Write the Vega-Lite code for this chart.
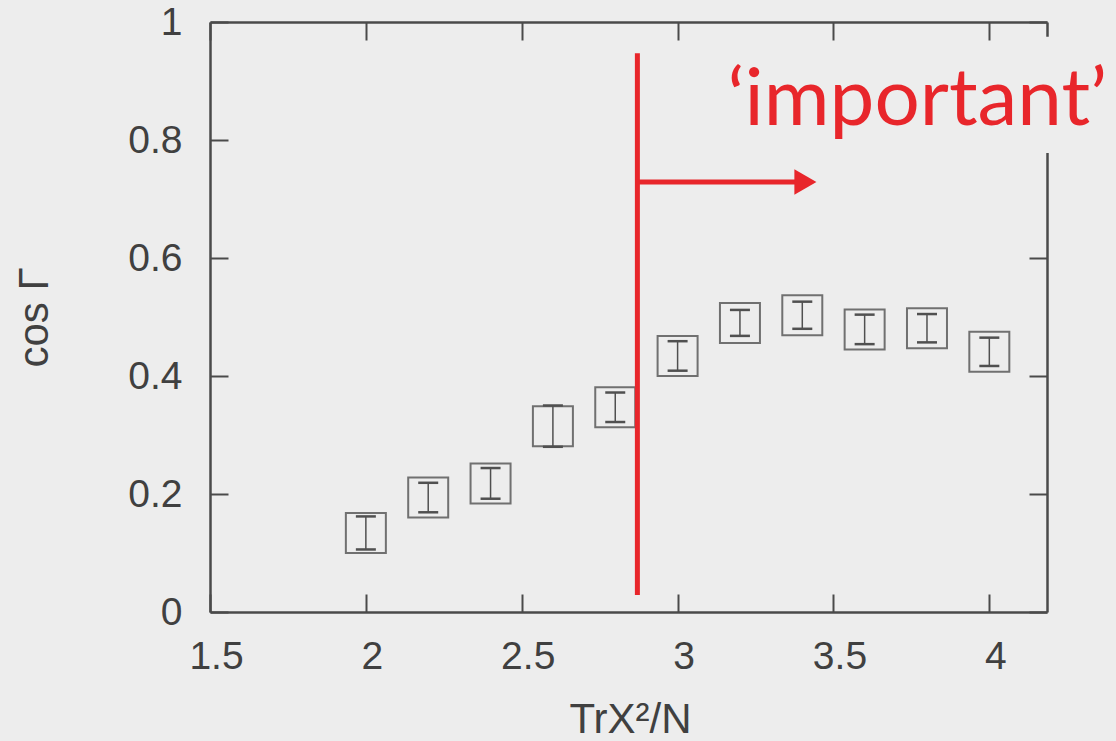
{
  "$schema": "https://vega.github.io/schema/vega-lite/v6.json",
  "width": 837,
  "height": 590,
  "autosize": {"type": "none"},
  "padding": {"left": 210, "top": 22, "right": 69, "bottom": 129},
  "background": "#ededed",
  "config": {
    "view": {"stroke": null},
    "axis": {
      "domainColor": "#4a4a4a",
      "domainWidth": 2.5,
      "tickColor": "#4a4a4a",
      "tickWidth": 2,
      "tickSize": -18,
      "grid": false,
      "format": "~g",
      "labelFlush": false,
      "labelFont": "Liberation Sans",
      "labelFontSize": 39,
      "labelColor": "#404040",
      "titleFont": "Liberation Sans",
      "titleFontSize": 42,
      "titleFontWeight": "normal",
      "titleColor": "#404040"
    }
  },
  "datasets": {
    "points": [
      {"x": 2.0, "y": 0.134, "ylo": 0.106, "yhi": 0.162},
      {"x": 2.2, "y": 0.194, "ylo": 0.169, "yhi": 0.219},
      {"x": 2.4, "y": 0.218, "ylo": 0.192, "yhi": 0.244},
      {"x": 2.6, "y": 0.315, "ylo": 0.280, "yhi": 0.350},
      {"x": 2.8, "y": 0.347, "ylo": 0.322, "yhi": 0.372},
      {"x": 3.0, "y": 0.434, "ylo": 0.409, "yhi": 0.459},
      {"x": 3.2, "y": 0.490, "ylo": 0.468, "yhi": 0.512},
      {"x": 3.4, "y": 0.503, "ylo": 0.480, "yhi": 0.526},
      {"x": 3.6, "y": 0.479, "ylo": 0.454, "yhi": 0.504},
      {"x": 3.8, "y": 0.481, "ylo": 0.457, "yhi": 0.505},
      {"x": 4.0, "y": 0.441, "ylo": 0.417, "yhi": 0.465}
    ],
    "vline": [{"x": 2.871, "y": 0.029, "y2": 0.947}],
    "arrow": [{"x": 2.875, "x2": 3.385, "y": 0.729}],
    "head": [{"x": 3.41, "y": 0.729}],
    "label": [{"x": 3.16, "y": 0.825, "text": "‘important’"}],
    "cover": [{"x": 4.12, "x2": 4.26, "y": 0.778, "y2": 0.975}]
  },
  "resolve": {"axis": {"x": "independent", "y": "independent"}},
  "layer": [
    {
      "data": {"name": "points"},
      "mark": {"type": "point", "shape": "square", "size": 1600, "filled": false, "stroke": "#707070", "strokeWidth": 2, "opacity": 1},
      "encoding": {
        "x": {
          "field": "x", "type": "quantitative",
          "scale": {"domain": [1.5, 4.185], "nice": false, "zero": false},
          "axis": {"orient": "bottom", "values": [1.5, 2, 2.5, 3, 3.5, 4], "labelPadding": 43, "labelOffset": 6,
                   "title": "TrX²/N", "titleX": 420, "titleY": 120, "titleBaseline": "alphabetic", "titleAlign": "center"}
        },
        "y": {
          "field": "y", "type": "quantitative",
          "scale": {"domain": [0, 1], "nice": false},
          "axis": {"orient": "left", "values": [0, 0.2, 0.4, 0.6, 0.8, 1], "labelPadding": 46,
                   "title": "cos Γ", "titleX": -163, "titleY": 295, "titleAngle": -90, "titleBaseline": "alphabetic", "titleAlign": "center"}
        }
      }
    },
    {
      "data": {"name": "points"},
      "mark": {"type": "rule", "stroke": "#505050", "strokeWidth": 1.5},
      "encoding": {
        "x": {"field": "x", "type": "quantitative",
              "axis": {"orient": "top", "values": [1.5, 2, 2.5, 3, 3.5, 4], "labels": false, "title": null}},
        "y": {"field": "ylo", "type": "quantitative",
              "axis": {"orient": "right", "values": [0, 0.2, 0.4, 0.6, 0.8, 1], "labels": false, "title": null}},
        "y2": {"field": "yhi"}
      }
    },
    {
      "data": {"name": "points"},
      "mark": {"type": "tick", "orient": "horizontal", "size": 20, "thickness": 2.5, "color": "#505050", "opacity": 1},
      "encoding": {
        "x": {"field": "x", "type": "quantitative", "axis": null},
        "y": {"field": "ylo", "type": "quantitative", "axis": null}
      }
    },
    {
      "data": {"name": "points"},
      "mark": {"type": "tick", "orient": "horizontal", "size": 20, "thickness": 2.5, "color": "#505050", "opacity": 1},
      "encoding": {
        "x": {"field": "x", "type": "quantitative", "axis": null},
        "y": {"field": "yhi", "type": "quantitative", "axis": null}
      }
    },
    {
      "data": {"name": "vline"},
      "mark": {"type": "rule", "stroke": "#e8262b", "strokeWidth": 5},
      "encoding": {
        "x": {"field": "x", "type": "quantitative", "axis": null},
        "y": {"field": "y", "type": "quantitative", "axis": null},
        "y2": {"field": "y2"}
      }
    },
    {
      "data": {"name": "arrow"},
      "mark": {"type": "rule", "stroke": "#e8262b", "strokeWidth": 5},
      "encoding": {
        "x": {"field": "x", "type": "quantitative", "axis": null},
        "x2": {"field": "x2"},
        "y": {"field": "y", "type": "quantitative", "axis": null}
      }
    },
    {
      "data": {"name": "head"},
      "mark": {"type": "point", "shape": "triangle-right", "size": 650, "filled": true, "fill": "#e8262b", "opacity": 1, "strokeWidth": 0},
      "encoding": {
        "x": {"field": "x", "type": "quantitative", "axis": null},
        "y": {"field": "y", "type": "quantitative", "axis": null}
      }
    },
    {
      "data": {"name": "cover"},
      "mark": {"type": "rect", "fill": "#ededed"},
      "encoding": {
        "x": {"field": "x", "type": "quantitative", "axis": null},
        "x2": {"field": "x2"},
        "y": {"field": "y", "type": "quantitative", "axis": null},
        "y2": {"field": "y2"}
      }
    },
    {
      "data": {"name": "label"},
      "mark": {"type": "text", "font": "Lato", "fontSize": 80, "color": "#e8262b", "align": "left", "baseline": "alphabetic"},
      "encoding": {
        "x": {"field": "x", "type": "quantitative", "axis": null},
        "y": {"field": "y", "type": "quantitative", "axis": null},
        "text": {"field": "text"}
      }
    }
  ]
}
